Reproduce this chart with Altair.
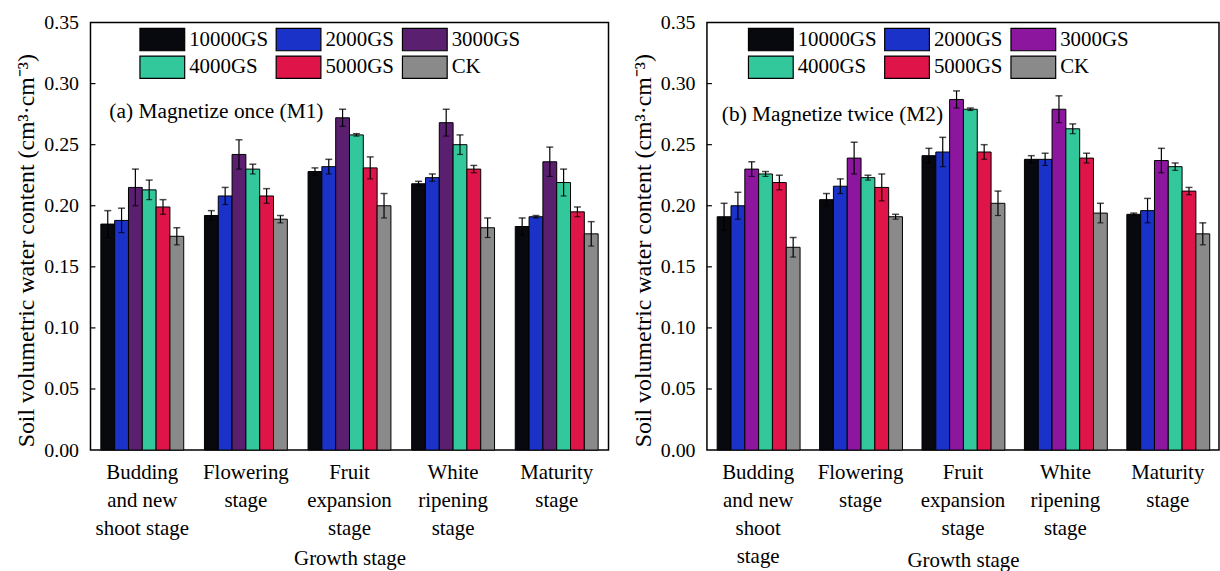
import altair as alt
import pandas as pd

# Treatments (magnetic field intensity) and growth stages
treatments = ["10000GS", "2000GS", "3000GS", "4000GS", "5000GS", "CK"]
stages_m1 = ["Budding|and new|shoot stage", "Flowering|stage", "Fruit|expansion|stage",
             "White|ripening|stage", "Maturity|stage"]
stages_m2 = ["Budding|and new|shoot|stage", "Flowering|stage", "Fruit|expansion|stage",
             "White|ripening|stage", "Maturity|stage"]

# Soil volumetric water content, magnetized once (M1): mean per stage
m1_10000 = [0.185, 0.192, 0.228, 0.218, 0.183]
m1_2000 = [0.188, 0.208, 0.232, 0.223, 0.191]
m1_3000 = [0.215, 0.242, 0.272, 0.268, 0.236]
m1_4000 = [0.213, 0.230, 0.258, 0.250, 0.219]
m1_5000 = [0.199, 0.208, 0.231, 0.230, 0.195]
m1_ck = [0.175, 0.189, 0.200, 0.182, 0.177]
# standard errors
m1_10000_se = [0.011, 0.004, 0.003, 0.002, 0.007]
m1_2000_se = [0.010, 0.007, 0.006, 0.003, 0.001]
m1_3000_se = [0.015, 0.012, 0.007, 0.011, 0.012]
m1_4000_se = [0.008, 0.004, 0.001, 0.008, 0.011]
m1_5000_se = [0.006, 0.006, 0.009, 0.003, 0.004]
m1_ck_se = [0.007, 0.003, 0.010, 0.008, 0.010]

# Magnetized twice (M2)
m2_10000 = [0.191, 0.205, 0.241, 0.238, 0.193]
m2_2000 = [0.200, 0.216, 0.244, 0.238, 0.196]
m2_3000 = [0.230, 0.239, 0.287, 0.279, 0.237]
m2_4000 = [0.226, 0.223, 0.279, 0.263, 0.232]
m2_5000 = [0.219, 0.215, 0.244, 0.239, 0.212]
m2_ck = [0.166, 0.191, 0.202, 0.194, 0.177]
m2_10000_se = [0.011, 0.005, 0.006, 0.003, 0.001]
m2_2000_se = [0.011, 0.006, 0.012, 0.005, 0.010]
m2_3000_se = [0.006, 0.013, 0.007, 0.011, 0.010]
m2_4000_se = [0.002, 0.002, 0.001, 0.004, 0.003]
m2_5000_se = [0.006, 0.011, 0.006, 0.004, 0.003]
m2_ck_se = [0.008, 0.002, 0.010, 0.008, 0.009]

y_ticks = [0.00, 0.05, 0.10, 0.15, 0.20, 0.25, 0.30, 0.35]

colors_m1 = ["#08080f", "#1a32c8", "#5a1f6e", "#33c79c", "#df1449", "#8a8a8a"]
colors_m2 = ["#08080f", "#1a32c8", "#8c169e", "#33c79c", "#df1449", "#8a8a8a"]

FONT = "Liberation Serif"

# legend swatch: a 2:1 rectangle (45 x 22.5 px at the size below)
SWATCH = "M-2,-1H2V1H-2Z"
SWATCH_SIZE = 506


def frame(stages, means, ses):
    rows = []
    for t, vals, errs in zip(treatments, means, ses):
        for s, v, e in zip(stages, vals, errs):
            rows.append({"stage": s, "treatment": t, "value": v,
                         "lo": v - e, "hi": v + e})
    return pd.DataFrame(rows)


def panel(df, stages, colors, note, note_x, note_y, legend_x, legend_y, width, title_y):
    x = alt.X("stage:N", sort=stages,
              scale=alt.Scale(paddingInner=0.2, paddingOuter=0.1),
              axis=alt.Axis(title="Growth stage", labelExpr="split(datum.label, '|')",
                            labelAngle=0, domain=False, ticks=False, labelPadding=12,
                            labelLineHeight=28, labelFontSize=21, labelBaseline="top",
                            titleFontSize=21, titleFontWeight="normal", titleY=title_y,
                            labelColor="black", titleColor="black"))
    xo = alt.XOffset("treatment:N", sort=treatments,
                     scale=alt.Scale(paddingInner=0, paddingOuter=0))
    y = alt.Y("value:Q", scale=alt.Scale(domain=[0, 0.35], nice=False, zero=True),
              axis=alt.Axis(title="Soil volumetric water content (cm³·cm⁻³)",
                            values=y_ticks, format=".2f", domain=False, ticks=False,
                            grid=False, labelPadding=12, titlePadding=5, titleY=229,
                            labelFontSize=20, titleFontSize=24, titleFontWeight="normal",
                            labelColor="black", titleColor="black"))
    bars = alt.Chart(df).mark_bar(stroke="black", strokeWidth=1).encode(
        x=x, xOffset=xo, y=y,
        color=alt.Color("treatment:N", sort=treatments,
                        scale=alt.Scale(domain=treatments, range=colors),
                        legend=alt.Legend(title=None, orient="none", legendX=legend_x,
                                          legendY=legend_y, direction="horizontal", columns=3,
                                          symbolType=SWATCH, symbolSize=SWATCH_SIZE,
                                          symbolOffset=11.25,
                                          symbolStrokeColor="black", symbolStrokeWidth=1.2,
                                          symbolOpacity=1,
                                          labelFontSize=21, labelFont=FONT,
                                          labelColor="black", labelOffset=15,
                                          columnPadding=5, rowPadding=0)))
    pos = dict(x=alt.X("stage:N", sort=stages),
               xOffset=alt.XOffset("treatment:N", sort=treatments))
    err = alt.Chart(df).mark_rule(color="black", strokeWidth=1.2).encode(
        y="lo:Q", y2="hi:Q", **pos)
    cap_hi = alt.Chart(df).mark_tick(color="black", thickness=1.5, size=7).encode(
        y="hi:Q", **pos)
    cap_lo = alt.Chart(df).mark_tick(color="black", thickness=1.2, size=6).encode(
        y="lo:Q", **pos)
    inner_ticks = alt.Chart(pd.DataFrame({"t": y_ticks[1:-1]})).mark_rule(
        color="black", strokeWidth=1.2).encode(y="t:Q", x=alt.value(0), x2=alt.value(5))
    label = alt.Chart(pd.DataFrame({"txt": [note]})).mark_text(
        align="left", baseline="middle", fontSize=21.5, font=FONT, color="black").encode(
        text="txt:N", x=alt.value(note_x), y=alt.value(note_y))
    return alt.layer(bars, err, cap_hi, cap_lo, inner_ticks, label).properties(
        width=width, height=430)


df1 = frame(stages_m1, [m1_10000, m1_2000, m1_3000, m1_4000, m1_5000, m1_ck],
            [m1_10000_se, m1_2000_se, m1_3000_se, m1_4000_se, m1_5000_se, m1_ck_se])
df2 = frame(stages_m2, [m2_10000, m2_2000, m2_3000, m2_4000, m2_5000, m2_ck],
            [m2_10000_se, m2_2000_se, m2_3000_se, m2_4000_se, m2_5000_se, m2_ck_se])

left = panel(df1, stages_m1, colors_m1, "(a) Magnetize once (M1)", 19, 90, 49, 5, 521, 98)
right = panel(df2, stages_m2, colors_m2, "(b) Magnetize twice (M2)", 15, 93, 41, 5, 515, 100)

chart = alt.hconcat(left, right, spacing=21).resolve_scale(color="independent").properties(
    padding={"left": 14, "top": 10, "right": 0, "bottom": 0},
    background="white",
).configure(font=FONT).configure_view(stroke="black", strokeWidth=1.5)

chart.save("out.html", embed_options={"renderer": "svg", "actions": False})
